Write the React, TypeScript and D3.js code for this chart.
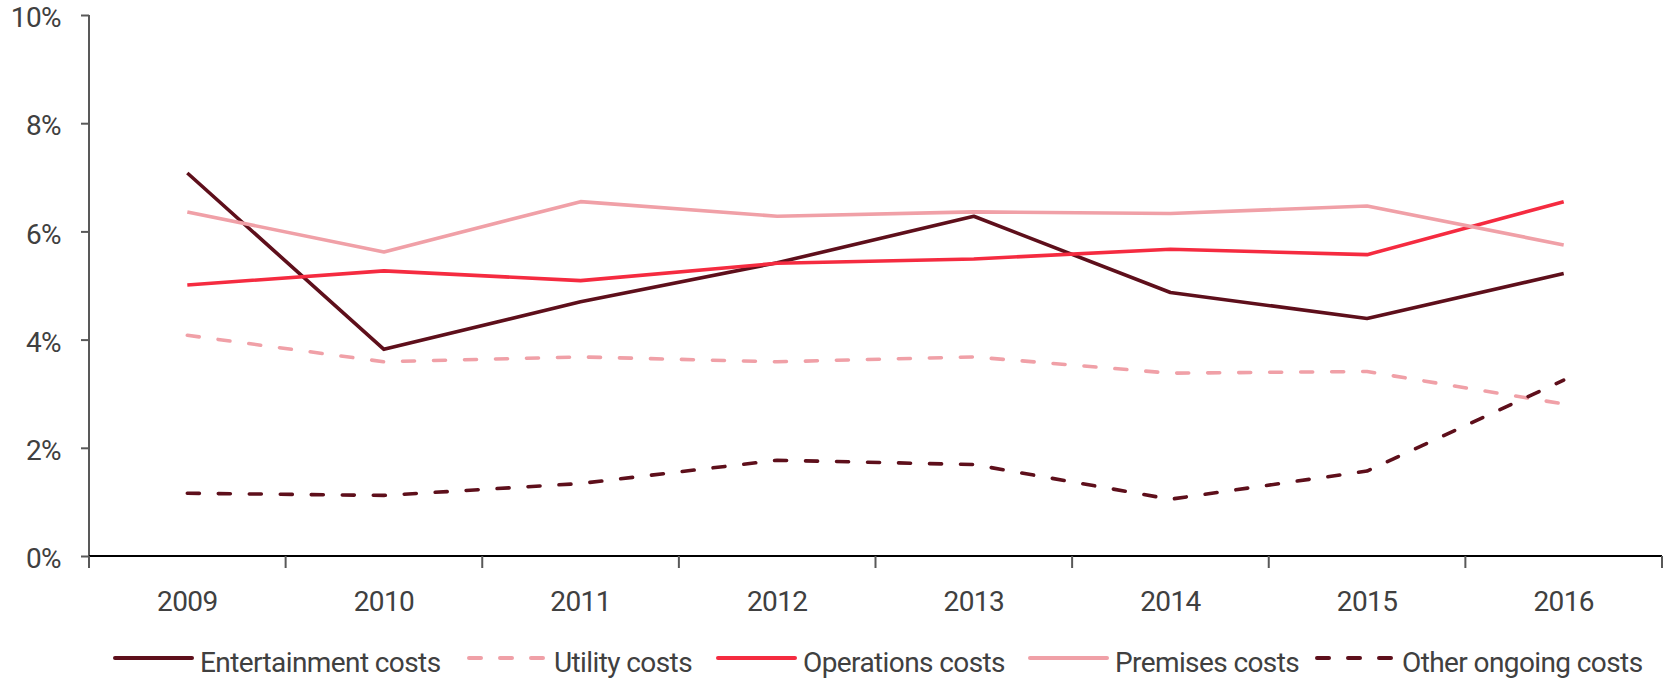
import { useEffect, useRef } from "react";
import * as d3 from "d3";

// values in percent
const years = ["2009", "2010", "2011", "2012", "2013", "2014", "2015", "2016"];
const entertainmentCosts = [7.08, 3.82, 4.7, 5.42, 6.28, 4.87, 4.39, 5.22];
const utilityCosts = [4.08, 3.59, 3.68, 3.59, 3.68, 3.38, 3.41, 2.81];
const operationsCosts = [5.01, 5.27, 5.09, 5.41, 5.49, 5.67, 5.57, 6.55];
const premisesCosts = [6.36, 5.62, 6.55, 6.28, 6.36, 6.33, 6.47, 5.75];
const otherOngoingCosts = [1.16, 1.12, 1.34, 1.77, 1.69, 1.05, 1.57, 3.25];
const yTicks = [0, 2, 4, 6, 8, 10];

const seriesNames = [
    "Entertainment costs",
    "Utility costs",
    "Operations costs",
    "Premises costs",
    "Other ongoing costs",
];
const seriesValues = [entertainmentCosts, utilityCosts, operationsCosts, premisesCosts, otherOngoingCosts];
const seriesColors = ["#5e0f1b", "#f0a0a7", "#f52b40", "#f0a0a7", "#5e0f1b"];
const seriesDashed = [false, true, false, false, true];

const App = () => {
    const svgRef = useRef<SVGSVGElement>(null);
    const width = 1671;
    const height = 679;

    useEffect(() => {
        const svg = d3.select(svgRef.current);
        svg.selectAll("*").remove();

        const font = "Roboto, 'Open Sans', sans-serif";
        const fontSize = 28;
        const spacing = "-0.6px";
        const textColor = "#404040";

        const x = d3.scaleBand<string>().domain(years).range([89, 1662]).padding(0);
        const y = d3.scaleLinear().domain([0, 10]).range([556, 15]);

        // y axis
        const yAxis = svg.append("g")
            .attr("transform", "translate(89,0)")
            .call(d3.axisLeft(y).tickValues(yTicks).tickSize(8).tickPadding(20).tickFormat(d => `${d}%`));
        yAxis.select(".domain").attr("stroke", "#595959").attr("stroke-width", 2).attr("d", `M0,${y(10)}V${y(0)}`);
        yAxis.selectAll(".tick line").attr("stroke", "#595959").attr("stroke-width", 2);
        yAxis.selectAll(".tick text")
            .attr("dy", "0.42em")
            .attr("font-family", font).attr("font-size", fontSize)
            .attr("letter-spacing", spacing).attr("fill", textColor);

        // x axis: labels centred in bands, ticks on band edges
        const xAxis = svg.append("g")
            .attr("transform", `translate(0,${y(0)})`)
            .call(d3.axisBottom(x).tickSize(0).tickPadding(35));
        xAxis.select(".domain").attr("stroke", "#000").attr("stroke-width", 2)
            .attr("d", `M${x.range()[0]},0H${x.range()[1]}`);
        xAxis.selectAll(".tick text")
            .attr("font-family", font).attr("font-size", fontSize)
            .attr("letter-spacing", spacing).attr("fill", textColor);
        const edges = d3.range(years.length + 1).map(i => x.range()[0] + i * x.step());
        xAxis.selectAll(".edge")
            .data(edges)
            .enter()
            .append("line")
            .attr("x1", d => d).attr("x2", d => d)
            .attr("y1", 0).attr("y2", 12)
            .attr("stroke", "#595959").attr("stroke-width", 2);

        // lines
        const line = d3.line<number>()
            .x((_, i) => (x(years[i]) as number) + x.bandwidth() / 2)
            .y(d => y(d));

        seriesValues.forEach((vals, i) => {
            svg.append("path")
                .datum(vals)
                .attr("d", line)
                .attr("fill", "none")
                .attr("stroke", seriesColors[i])
                .attr("stroke-width", 3.6)
                .attr("stroke-linejoin", "round")
                .attr("stroke-linecap", seriesDashed[i] ? "round" : "butt")
                .attr("stroke-dasharray", seriesDashed[i] ? "12,19" : null);
        });

        // legend
        const legendX = [115, 469, 718, 1030, 1317];
        const legendY = 658;
        const legend = svg.append("g");
        seriesNames.forEach((name, i) => {
            const g = legend.append("g").attr("transform", `translate(${legendX[i]},${legendY})`);
            g.append("line")
                .attr("x1", 0).attr("x2", 77)
                .attr("y1", 0).attr("y2", 0)
                .attr("stroke", seriesColors[i])
                .attr("stroke-width", 4)
                .attr("stroke-linecap", "round")
                .attr("stroke-dasharray", seriesDashed[i] ? "12,19" : null);
            g.append("text")
                .attr("x", 85).attr("y", 14)
                .attr("font-family", font).attr("font-size", fontSize)
                .attr("letter-spacing", spacing).attr("fill", textColor)
                .text(name);
        });
    }, []);

    return (
        <svg
            ref={svgRef}
            width={width}
            height={height}
            style={{ position: "absolute", left: 0, top: 0, background: "#fff" }}
        ></svg>
    );
};

export default App;
